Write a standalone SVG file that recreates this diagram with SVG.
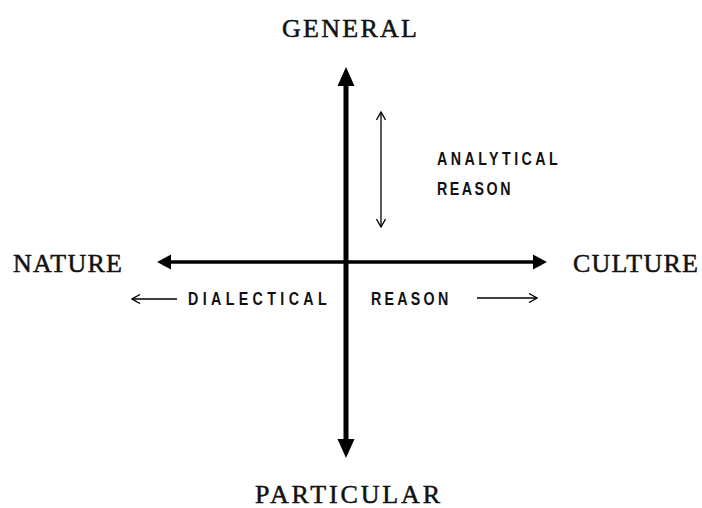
<svg xmlns="http://www.w3.org/2000/svg" width="702" height="508" viewBox="0 0 702 508">
<defs>
<style>
.big{font-family:"Liberation Serif","DejaVu Serif",serif;font-size:26px;fill:#111;stroke:#111;stroke-width:0.5}
.small{font-family:"Liberation Sans","DejaVu Sans",sans-serif;font-size:19px;font-weight:bold;fill:#111}
.axisV{stroke:#000;stroke-width:5;fill:none}
.axisH{stroke:#000;stroke-width:3.5;fill:none}
.thin{stroke:#000;stroke-width:1.3;fill:none}
</style>
<marker id="headV" markerUnits="userSpaceOnUse" viewBox="0 -9 20 18" refX="1" refY="0" markerWidth="20" markerHeight="18" orient="auto-start-reverse">
<path d="M0,-8.5 L19,0 L0,8.5 z" fill="#000"/>
</marker>
<marker id="headH" markerUnits="userSpaceOnUse" viewBox="0 -8 15 16" refX="1" refY="0" markerWidth="15" markerHeight="16" orient="auto-start-reverse">
<path d="M0,-7.5 L14,0 L0,7.5 z" fill="#000"/>
</marker>
<marker id="open" markerUnits="userSpaceOnUse" viewBox="-9 -5 10 10" refX="0" refY="0" markerWidth="10" markerHeight="10" orient="auto-start-reverse">
<path d="M-8,-4.5 L0,0 L-8,4.5" fill="none" stroke="#000" stroke-width="1.3"/>
</marker>
</defs>
<rect width="702" height="508" fill="#fff"/>
<g id="connectors">
<line class="axisV" x1="346" y1="85" x2="346" y2="440" marker-start="url(#headV)" marker-end="url(#headV)"/>
<line class="axisH" x1="170" y1="262" x2="534" y2="262" marker-start="url(#headH)" marker-end="url(#headH)"/>
<line class="thin" x1="381" y1="112" x2="381" y2="227" marker-start="url(#open)" marker-end="url(#open)"/>
<line class="thin" x1="132" y1="299" x2="177" y2="299" marker-start="url(#open)"/>
<line class="thin" x1="477" y1="298" x2="537" y2="298" marker-end="url(#open)"/>
</g>
<g id="general"><text class="big" x="282" y="37" textLength="135">GENERAL</text></g>
<g id="particular"><text class="big" x="255" y="503" textLength="185">PARTICULAR</text></g>
<g id="nature"><text class="big" x="13" y="272" textLength="109">NATURE</text></g>
<g id="culture"><text class="big" x="573" y="272" textLength="125">CULTURE</text></g>
<g id="analytical-reason">
<text class="small" transform="translate(437,165) scale(0.75,1)" textLength="161">ANALYTICAL</text>
<text class="small" transform="translate(437,195) scale(0.75,1)" textLength="98">REASON</text>
</g>
<g id="dialectical-reason">
<text class="small" transform="translate(188,305) scale(0.75,1)" textLength="185">DIALECTICAL</text>
<text class="small" transform="translate(371,305) scale(0.75,1)" textLength="103">REASON</text>
</g>
</svg>
